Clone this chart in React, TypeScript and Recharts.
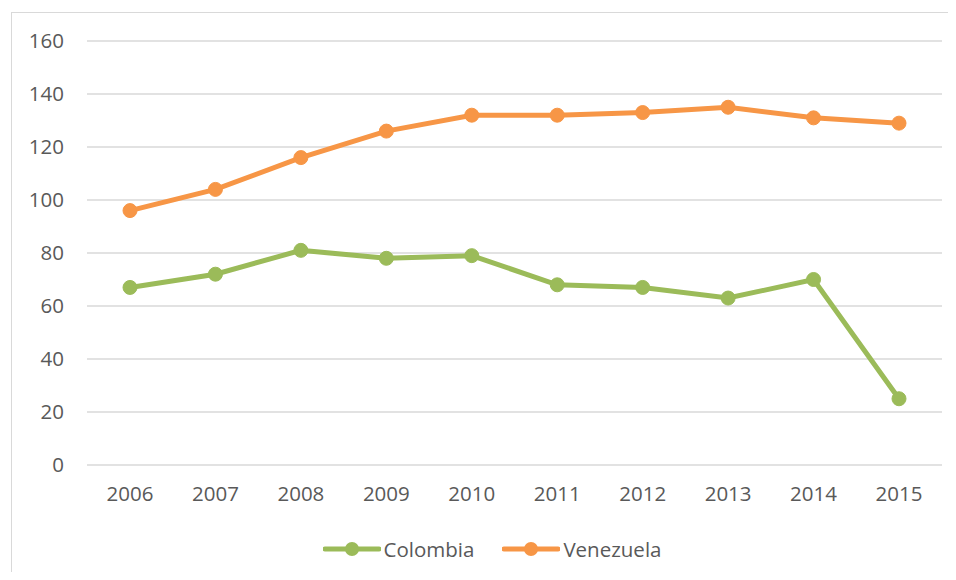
import React from "react";
import { LineChart, Line, XAxis, YAxis, CartesianGrid } from "recharts";

const years = ["2006", "2007", "2008", "2009", "2010", "2011", "2012", "2013", "2014", "2015"];
const colombia = [67, 72, 81, 78, 79, 68, 67, 63, 70, 25];
const venezuela = [96, 104, 116, 126, 132, 132, 133, 135, 131, 129];
const yTicks = [0, 20, 40, 60, 80, 100, 120, 140, 160];

const GREEN = "#9BBB59";
const ORANGE = "#F79646";
const TEXT = "#595959";
const FONT = "'Open Sans', sans-serif";

const series = [
  { name: "Colombia", color: GREEN },
  { name: "Venezuela", color: ORANGE },
];

const data = years.map((y, i) => ({ year: y, Colombia: colombia[i], Venezuela: venezuela[i] }));

const LegendBox = () => (
  <div style={{ position: "absolute", left: 0, top: 536, width: 956, display: "flex", justifyContent: "center", alignItems: "center", fontFamily: FONT, fontSize: 20.5, color: TEXT }}>
    <div style={{ display: "flex", alignItems: "center", marginLeft: 28 }}>
      {series.map((it, i) => (
        <div key={i} style={{ display: "flex", alignItems: "center", marginRight: i === 0 ? 28 : 0 }}>
          <svg width={58} height={16} style={{ marginRight: 3 }}>
            <line x1={2} y1={8} x2={56} y2={8} stroke={it.color} strokeWidth={5} strokeLinecap="round" />
            <circle cx={29} cy={8} r={7} fill={it.color} />
          </svg>
          <span style={{ lineHeight: "26px" }}>{it.name}</span>
        </div>
      ))}
    </div>
  </div>
);

export default function App() {
  return (
    <div style={{ position: "relative", width: 956, height: 580, margin: -8, background: "#fff", overflow: "hidden" }}>
      <div style={{ position: "absolute", left: 11, top: 12, width: 960, height: 600, border: "1.5px solid #D9D9D9", boxSizing: "border-box" }} />
      <div style={{ position: "absolute", left: 0, top: 0 }}>
        <LineChart width={956} height={580} data={data} margin={{ top: 41, right: 14, bottom: 85, left: 0 }}>
          <CartesianGrid vertical={false} stroke="#D9D9D9" strokeWidth={1.5} />
          <XAxis
            dataKey="year"
            height={30}
            axisLine={false}
            tickLine={false}
            tickMargin={15}
            padding={{ left: 43, right: 43 }}
            tick={{ fill: TEXT, fontSize: 20.5, fontFamily: FONT }}
          />
          <YAxis
            width={87}
            domain={[0, 160]}
            ticks={yTicks}
            axisLine={false}
            tickLine={false}
            tickMargin={17}
            tick={{ fill: TEXT, fontSize: 20.5, fontFamily: FONT }}
          />
          <Line type="linear" dataKey="Colombia" stroke={GREEN} strokeWidth={5} dot={{ r: 7, fill: GREEN, stroke: GREEN, strokeWidth: 1 }} activeDot={false} isAnimationActive={false} />
          <Line type="linear" dataKey="Venezuela" stroke={ORANGE} strokeWidth={5} dot={{ r: 7, fill: ORANGE, stroke: ORANGE, strokeWidth: 1 }} activeDot={false} isAnimationActive={false} />
        </LineChart>
      </div>
      <LegendBox />
    </div>
  );
}
